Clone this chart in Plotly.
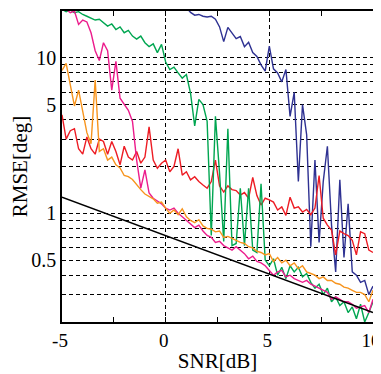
import plotly.graph_objects as go

snr = [round(-5 + 0.2 * k, 1) for k in range(76)]

blue = [25]*30 + [21, 19.6, 18.8, 19.0, 18.5, 18.3, 18.5, 17.7, 15.8, 12.7,
        15.7, 14.5, 13.3, 13.7, 11.8, 12.6, 10.8, 10.2, 9.0, 8.2,
        11.9, 8.5, 8.0, 7.0, 8.4, 4.2, 6.0, 1.6, 5.0, 3.2,
        0.61, 2.2, 0.65, 1.6, 2.7, 0.84, 0.42, 1.64, 0.52, 1.15,
        0.42, 0.40, 0.36, 0.37, 0.30, 0.34]

green = [20.5, 19.8, 20.3, 19.5, 19.8, 19.0, 18.5, 18.0, 17.5, 17.7,
         16.8, 16.0, 16.5, 15.2, 15.8, 14.5, 15.0, 13.8, 13.2, 13.8,
         12.5, 11.8, 12.3, 10.8, 12.2, 9.4, 8.4, 8.7, 8.0, 7.4,
         7.8, 5.9, 3.65, 5.4, 5.0, 3.9, 0.72, 4.2, 1.8, 0.66,
         3.5, 0.62, 0.64, 1.45, 0.62, 1.45, 0.58, 0.56, 1.55, 0.50,
         0.46, 0.51, 0.40, 0.45, 0.38, 0.46, 0.42, 0.45, 0.39, 0.41,
         0.36, 0.33, 0.35, 0.30, 0.33, 0.27, 0.29, 0.255, 0.27, 0.23,
         0.25, 0.21, 0.26, 0.20, 0.23, 0.27]

magenta = [21, 20.5, 19.5, 20, 16.4, 17.5, 17.0, 14.5, 11.1, 9.6,
           12.5, 11.1, 6.2, 9.5, 5.5, 5.0, 4.6, 3.9, 2.2, 1.45,
           1.9, 1.35, 1.25, 1.2, 1.15, 1.08, 1.05, 1.08, 1.0, 0.95,
           0.9, 0.86, 0.81, 0.84, 0.77, 0.72, 0.70, 0.65, 0.66, 0.62,
           0.60, 0.58, 0.61, 0.58, 0.55, 0.51, 0.53, 0.49, 0.48, 0.46,
           0.43, 0.40, 0.42, 0.43, 0.39, 0.40, 0.38, 0.37, 0.36, 0.37,
           0.35, 0.34, 0.33, 0.32, 0.31, 0.28, 0.29, 0.28, 0.27, 0.27,
           0.26, 0.245, 0.25, 0.255, 0.23, 0.28]

orange = [8.3, 9.2, 6.7, 4.9, 6.2, 4.6, 3.3, 2.8, 7.2, 2.5,
          2.6, 2.2, 2.3, 2.05, 1.96, 1.75, 1.72, 1.65, 1.52, 1.42,
          1.33, 1.28, 1.24, 1.16, 1.18, 1.08, 1.0, 1.05, 0.98, 1.07,
          0.95, 0.90, 0.87, 0.91, 0.83, 0.80, 0.79, 0.76, 0.77, 0.70,
          0.71, 0.69, 0.67, 0.65, 0.64, 0.61, 0.60, 0.57, 0.56, 0.54,
          0.55, 0.49, 0.52, 0.48, 0.50, 0.46, 0.48, 0.44, 0.46, 0.42,
          0.41, 0.40, 0.38, 0.39, 0.37, 0.37, 0.355, 0.35, 0.335, 0.33,
          0.32, 0.31, 0.31, 0.30, 0.27, 0.32]

red = [4.3, 3.0, 3.4, 3.5, 2.6, 2.4, 3.1, 2.6, 2.4, 3.0,
       2.9, 2.4, 2.9, 2.5, 2.05, 2.7, 2.3, 2.2, 2.5, 2.1,
       2.3, 3.6, 2.2, 1.95, 2.1, 2.2, 1.85, 2.0, 2.6, 1.76,
       1.85, 1.64, 1.72, 1.6, 1.52, 1.45, 1.6, 2.2, 1.5, 1.37,
       1.5, 1.42, 1.4, 1.31, 1.36, 1.25, 1.7, 1.3, 1.13, 1.25,
       1.22, 1.18, 1.05, 1.1, 0.97, 1.27, 1.08, 1.1, 1.02, 1.06,
       0.98, 1.08, 1.75, 0.93, 0.84, 0.78, 0.54, 0.77, 0.74, 0.72,
       0.67, 0.54, 0.76, 0.74, 0.58, 0.56]

crb_snr = [-5, 10]
crb = [1.27, 0.23]

y_grid = [0.3, 0.4, 0.5, 0.6, 0.7, 0.8, 0.9, 1, 2, 3, 4, 5, 6, 7, 8, 9, 10]
y_labels = ["", "", "0.5", "", "", "", "", "1", "", "", "", "5", "", "", "", "", "10"]
x_ticks = [-5, 0, 5, 10]

series = [
    (blue, "#2E3192"),
    (red, "#ED1C24"),
    (green, "#00A651"),
    (magenta, "#EC1C8C"),
    (orange, "#F7941D"),
]

fig = go.Figure()
for vals, col in series:
    fig.add_trace(go.Scatter(x=snr, y=vals, mode="lines",
                             line=dict(color=col, width=1.4), showlegend=False))
fig.add_trace(go.Scatter(x=crb_snr, y=crb, mode="lines",
                         line=dict(color="black", width=1.4), showlegend=False))

font = dict(family="Liberation Serif, Times New Roman, serif", size=20, color="black")

# the page body adds an 8px offset; the figure is placed to compensate
fig.update_layout(
    width=381, height=366,
    margin=dict(l=54, r=16, t=3, b=52, autoexpand=False),
    paper_bgcolor="white", plot_bgcolor="white",
    font=font,
    showlegend=False,
)
fig.update_xaxes(
    range=[-5, 10], tickvals=x_ticks, ticktext=[str(v) for v in x_ticks],
    showgrid=True, gridcolor="black", gridwidth=1, griddash="4px,3px",
    showline=True, linecolor="black", linewidth=1.5, mirror="ticks",
    ticks="inside", ticklen=5, tickcolor="black",
    minor=dict(tickvals=[-2.5, 2.5, 7.5], ticks="inside", ticklen=5, tickcolor="black", showgrid=False),
    zeroline=False, automargin=False,
    ticklabelshift=-2,
    title=dict(text="SNR[dB]", font=dict(size=21), standoff=4),
    tickfont=dict(size=19),
)
fig.update_yaxes(
    type="log", range=[-0.69897, 1.30103],
    tickvals=y_grid, ticktext=y_labels,
    showgrid=True, gridcolor="black", gridwidth=1, griddash="4px,3px",
    showline=True, linecolor="black", linewidth=1.5, mirror=True,
    ticks="", zeroline=False, automargin=False,
    title=dict(text="RMSE[deg]", font=dict(size=21), standoff=4),
    tickfont=dict(size=20),
)

fig.write_html("out.html")
